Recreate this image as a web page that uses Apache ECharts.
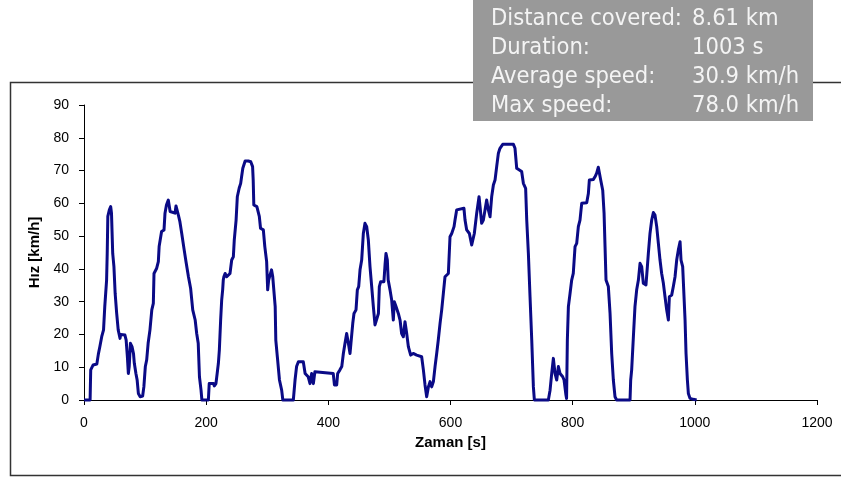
<!DOCTYPE html>
<html>
<head>
<meta charset="utf-8">
<script src="https://cdn.jsdelivr.net/npm/echarts@6/dist/echarts.min.js"></script>
<style>html,body{margin:0;padding:0;background:#fff}#c{width:841px;height:477px}</style>
</head>
<body>
<div id="c"></div>
<script>
const timeS = [0,10,11,15,21,23.5,26,29,32,33,34,37,38,39,41.5,43.7,45,47,49,51,53.5,56,59,60,67,69,71,72.6,74,76,78.6,81,82.4,85,87,89,92,96,98,100.4,102.6,105,108,111,113.5,114.6,119,121.7,123,127,131,132.6,135,138,140,141,143.5,149,150.6,153,155,157,160,164,167,171,174.6,178,182,184.5,187,189,191.6,193,203.6,205,212,213.4,216,218,220,221.6,223.7,225.4,227,228,229,231,233.6,236,239,241.8,244.5,246,249,251,254,256.5,258,260,263.8,269,273,276,277,278,283,285.4,287,289,293.6,296,299,300.7,302.3,304.5,307,309,312,313,314,316.5,320,323.6,325.5,342.7,345.5,348,351,359,362,367,370,372.7,375.5,378,381,408,410,413.7,415.3,419,422,424.6,427.3,430,432.8,435.5,437,440,442,445.3,447.5,449.7,451.9,454.6,457.3,460,462.8,465.5,468.2,471,473.7,476.4,479,482,483.5,485.7,491,493,494.4,496.6,498,501,503.7,506.4,508,510.8,514.6,517.4,520,522.8,525.5,528.3,531,534.8,539,544.6,552.8,555.6,558.3,561,563.8,566.5,569.2,572,574.7,577.4,580,582.9,585.6,588.3,591,596.5,599.2,602,605.8,607.4,610.1,612.9,622,623.8,626.5,630.9,634.7,637.4,639,642.9,646.7,648.4,651,653.8,656.5,659.2,662,664.7,667.4,670.2,672.9,675.6,678.4,681,685.5,703,705.6,708.4,711,716.5,719.3,723,724.8,727.5,730.2,733,735.7,737.3,760.2,763,765.7,768.4,771.1,773.9,776.6,779.3,783.7,785.9,789,790,791.3,793,795.7,798.4,801,803.9,806.6,809.3,812,814.8,823,825.7,827.3,833.9,836.6,839.3,842,844.8,845.9,849.2,851.4,853,854.6,858.4,861.2,863.9,866.6,869.3,872,893.9,895,896.6,899.4,902,904.8,907.6,910.3,913,915.7,920,922.3,923.9,926.6,929.4,932.1,934.8,937.6,940.3,943,945.7,948.5,951.2,953.9,956.7,958.3,962.1,964.8,967.6,970.3,973,975.8,977.4,980.1,982.3,984,985.6,987.8,989.4,992.1,997.6,1003];
const speedKmh = [0,0,9.2,10.7,11,14,16.3,19.3,21.4,22,28.5,36.6,44.7,56,58,59,57,44.7,40.7,32.5,26.4,21.4,18.8,20,19.8,18.3,13.2,8.1,10.2,17.3,16.3,14.2,11.2,8.1,6.1,2,1,1.2,4,10.2,12.2,17.3,21.4,27.5,29.5,38.6,40.2,42.2,46.8,51.4,51.9,57,59.5,61,60.8,57.5,57,57,59.2,59,56,54.4,50.8,45.8,42.2,37.6,34,27.5,24.4,20.3,17.3,7.1,3,0,0,5,5,4.3,5,8.1,11.2,15.3,24.4,30.5,33.6,36.6,37.6,38.6,37.6,37.1,38.6,42.7,43.7,48.8,54.9,62,64.6,66.1,68.1,70.7,72.9,72.9,72.7,71.2,67.1,59.5,59,58.5,56,52.4,51.9,46.8,42.2,33.6,36.6,38.1,39.7,37.6,37.1,28.5,18.3,13.2,6.1,3,0,0,6.1,10.2,11.7,11.7,8.1,7.1,5,8.1,5,8.6,8.1,8.1,4.6,4.6,8.1,9.2,10.2,14.2,17.3,20.3,17.3,14.2,17.3,23.4,26.4,27.5,33.6,34.6,39.7,42.7,50.8,53.9,52.9,48.8,40.7,34.6,28.5,22.9,23.4,26.4,34.6,36.1,36.1,41.7,44.7,42.7,36.6,33.6,30.5,24.4,30,28.5,26.4,24.4,20.3,19.3,23.9,20.3,16.3,13.7,14.2,13.7,13.2,9.2,4.6,1,4,5.6,4,5.6,10.2,14.2,18.3,23.4,27.5,32.5,37.6,38.6,49.8,50.8,52.9,54.9,58,58.5,58.5,54.9,51.9,50.8,47.3,46.8,50.8,57,62,59,53.9,54.9,58,61,58,55.9,62,65.6,67.1,71.2,75.3,76.8,78,78,76.8,70.7,70.2,69.7,66.1,64.6,54.9,44.7,31.5,18.3,4,0,0,3,8.1,12.7,8.1,6.1,10.2,8.1,7.1,6.1,1.5,0.5,18.3,28.5,32.5,36.6,38.6,46.8,47.8,52.9,54.9,60,60.2,63,67.1,67.3,68.1,69.2,71,71,67.1,64,57,46.8,36.6,34.6,26.4,14.2,6.1,1,0,0,6.1,9.2,19.3,28.5,33.6,36.6,41.7,40.7,35.6,35.1,40.7,44.7,50.8,54.9,57.2,56.4,52.9,47.8,42.7,38.6,35.6,31.5,27.5,24.4,31.5,32,34.6,37.6,42.7,45.8,48.3,42.7,40.7,31.5,24.4,14.2,6.1,2,0.5,0.2,0];
const xTicks = [0,200,400,600,800,1000,1200];
const yTicks = [0,10,20,30,40,50,60,70,80,90];
const xTitle = 'Zaman [s]';
const yTitle = 'Hız [km/h]';
const infoLabels = ['Distance covered:', 'Duration:', 'Average speed:', 'Max speed:'];
const infoValues = ['8.61 km', '1003 s', '30.9 km/h', '78.0 km/h'];

const chart = echarts.init(document.getElementById('c'), null, {renderer: 'canvas'});
const points = timeS.map((t, i) => [t, speedKmh[i]]);
const infoY = [18.5, 48, 77, 105.5];
const infoFont = '23.5px "DejaVu Sans Condensed", "DejaVu Sans"';
const graphics = [
  {type: 'rect', z: 0, shape: {x: 10.5, y: 82.5, width: 845, height: 393}, style: {fill: 'none', stroke: '#333', lineWidth: 1.5}},
  {type: 'rect', z: 10, shape: {x: 473, y: 0, width: 340, height: 121}, style: {fill: '#999999'}}
];
infoLabels.forEach((s, i) => {
  graphics.push({type: 'text', z: 11, x: 491, y: infoY[i], style: {text: s, fill: '#f4f4f4', font: infoFont, textVerticalAlign: 'middle'}});
  graphics.push({type: 'text', z: 11, x: 692, y: infoY[i], style: {text: infoValues[i], fill: '#f4f4f4', font: infoFont, textVerticalAlign: 'middle'}});
});

chart.setOption({
  animation: false,
  backgroundColor: '#fff',
  grid: {left: 84, right: 24, top: 105, bottom: 77, containLabel: false},
  xAxis: {
    type: 'value', min: xTicks[0], max: xTicks[xTicks.length - 1], interval: 200,
    name: xTitle, nameLocation: 'middle', nameGap: 35,
    nameTextStyle: {fontFamily: 'Liberation Sans', fontWeight: 'bold', fontSize: 15, color: '#000'},
    axisLine: {lineStyle: {color: '#000', width: 1}},
    axisTick: {show: true, inside: false, length: 5, lineStyle: {color: '#000'}},
    axisLabel: {fontFamily: 'Liberation Sans', fontSize: 14, color: '#000', margin: 16, formatter: v => String(v)},
    splitLine: {show: false}
  },
  yAxis: {
    type: 'value', min: yTicks[0], max: yTicks[yTicks.length - 1], interval: 10,
    name: yTitle, nameLocation: 'middle', nameGap: 40, nameRotate: 90,
    nameTextStyle: {fontFamily: 'Liberation Sans', fontWeight: 'bold', fontSize: 15, color: '#000'},
    axisLine: {show: true, lineStyle: {color: '#000', width: 1}},
    axisTick: {show: true, inside: false, length: 5, lineStyle: {color: '#000'}},
    axisLabel: {fontFamily: 'Liberation Sans', fontSize: 14, color: '#000', margin: 15, formatter: v => String(v)},
    splitLine: {show: false}
  },
  series: [{
    type: 'line', data: points, showSymbol: false, symbol: 'none',
    lineStyle: {color: '#0a0a86', width: 3, join: 'round'},
    clip: false
  }],
  graphic: graphics
});
</script>
</body>
</html>
